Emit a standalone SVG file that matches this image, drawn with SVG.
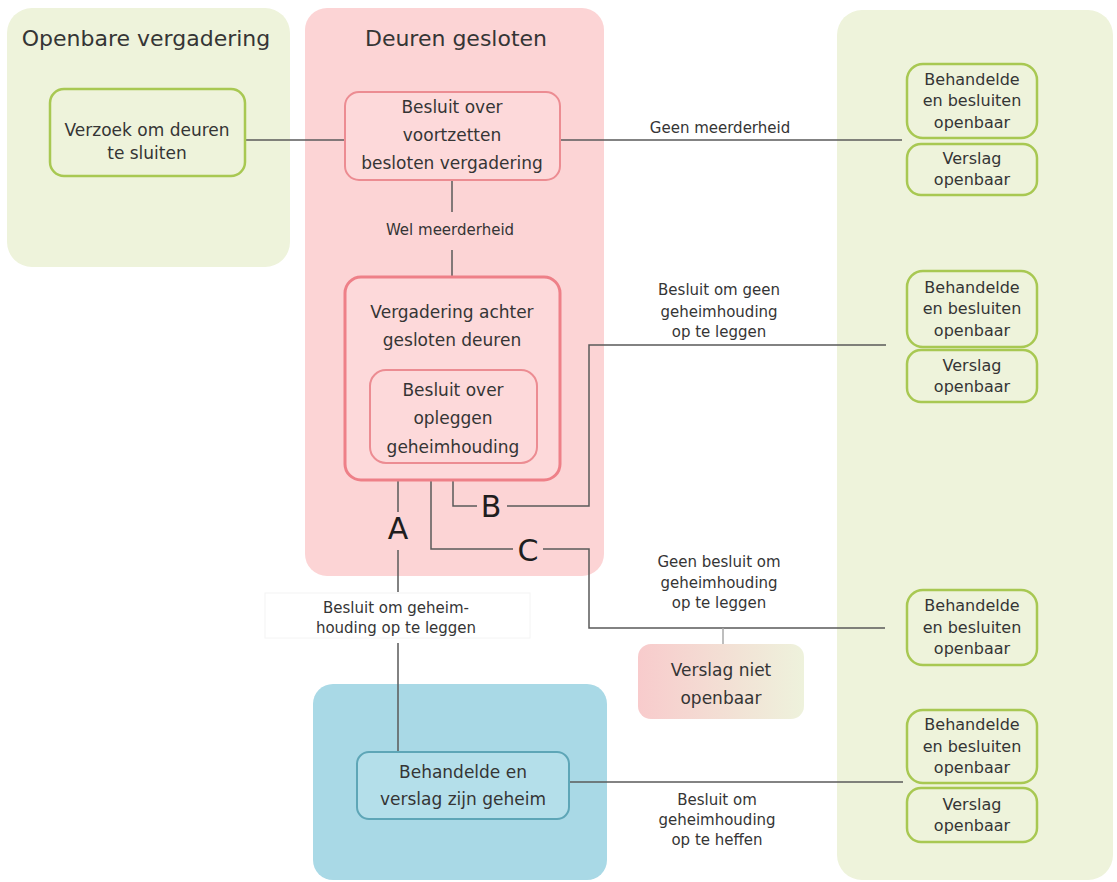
<svg xmlns="http://www.w3.org/2000/svg" width="1117" height="882" viewBox="0 0 1117 882">
<defs>
<linearGradient id="gNiet" x1="0" y1="0" x2="1" y2="0">
<stop offset="0" stop-color="#f8cbcc"/>
<stop offset="1" stop-color="#eef2dc"/>
</linearGradient>
<style>
text{font-family:"DejaVu Sans","Liberation Sans",sans-serif;fill:#353535;text-anchor:middle}
.title{font-size:22px}
.nt{font-size:17px}
.rt{font-size:16px}
.el{font-size:15px}
.abc{font-size:30px;fill:#1e1e1e}
.cg{fill:#eef3db}
.cp{fill:#fcd4d5}
.cb{fill:#a9d9e6}
.ng{fill:#eef3db;stroke:#a8c852;stroke-width:2.5}
.np{fill:#fdd9da;stroke:#ec8c92;stroke-width:2}
.np2{fill:#fdd9da;stroke:#ee8088;stroke-width:3}
.nb{fill:#b4dfea;stroke:#5ea6b7;stroke-width:2}
.conn path{fill:none;stroke:#5a5a5a;stroke-width:1.5}
</style>
</defs>
<rect width="1117" height="882" fill="#ffffff"/>

<g id="container-openbaar">
<rect class="cg" x="7" y="8" width="283" height="259" rx="25"/>
<text class="title" x="146" y="46">Openbare vergadering</text>
</g>
<g id="container-gesloten">
<rect class="cp" x="305" y="8" width="299" height="568" rx="22"/>
<text class="title" x="456" y="46">Deuren gesloten</text>
</g>
<g id="container-rechts">
<rect class="cg" x="837" y="10" width="276" height="870" rx="25"/>
</g>
<g id="container-geheim">
<rect class="cb" x="313" y="684" width="294" height="196" rx="20"/>
</g>

<g id="label-bg">
<rect x="265" y="593" width="265" height="45" fill="#ffffff" stroke="#f4f4f4" stroke-width="1"/>
</g>

<g class="conn" id="connectors">
<path d="M245 140H345"/>
<path d="M560 140H902"/>
<path d="M452 181V212M452 250V277"/>
<path d="M398 481V512M398 550V592M398 643V752"/>
<path d="M453 481V506H477M507 506H589V345H886"/>
<path d="M431 481V549H513M543 549H589V628H885"/>
<path d="M723 628V644" style="stroke:#a8a8a8"/>
<path d="M569 782H903"/>
</g>

<g id="edge-labels">
<text class="el" x="720" y="133">Geen meerderheid</text>
<text class="el" x="450" y="235">Wel meerderheid</text>
<text class="el" x="719" y="295">Besluit om geen</text>
<text class="el" x="719" y="317">geheimhouding</text>
<text class="el" x="719" y="337">op te leggen</text>
<text class="el" x="719" y="567">Geen besluit om</text>
<text class="el" x="719" y="588">geheimhouding</text>
<text class="el" x="719" y="608">op te leggen</text>
<text class="el" x="396" y="613">Besluit om geheim-</text>
<text class="el" x="396" y="633">houding op te leggen</text>
<text class="el" x="717" y="805">Besluit om</text>
<text class="el" x="717" y="825">geheimhouding</text>
<text class="el" x="717" y="845">op te heffen</text>
<text class="abc" x="398" y="539">A</text>
<text class="abc" x="491" y="517">B</text>
<text class="abc" x="528" y="561">C</text>
</g>

<g id="node-verzoek">
<rect class="ng" x="50" y="89" width="195" height="87" rx="14"/>
<text class="nt" x="147" y="135.5">Verzoek om deuren</text>
<text class="nt" x="147" y="158.5">te sluiten</text>
</g>
<g id="node-besluit-voortzetten">
<rect class="np" x="345" y="92" width="215" height="88" rx="14"/>
<text class="nt" x="452" y="112.5">Besluit over</text>
<text class="nt" x="452" y="140.5">voortzetten</text>
<text class="nt" x="452" y="168.5">besloten vergadering</text>
</g>
<g id="node-vergadering">
<rect class="np2" x="345" y="277" width="215" height="203" rx="16"/>
<text class="nt" x="452" y="317.5">Vergadering achter</text>
<text class="nt" x="452" y="345.5">gesloten deuren</text>
</g>
<g id="node-besluit-opleggen">
<rect class="np" x="370" y="370" width="167" height="93" rx="16"/>
<text class="nt" x="453" y="395.5">Besluit over</text>
<text class="nt" x="453" y="423.5">opleggen</text>
<text class="nt" x="453" y="452.5">geheimhouding</text>
</g>
<g id="node-geheim">
<rect class="nb" x="357" y="752" width="212" height="67" rx="12"/>
<text class="nt" x="463" y="777.5">Behandelde en</text>
<text class="nt" x="463" y="804.5">verslag zijn geheim</text>
</g>
<g id="node-verslag-niet">
<rect x="638" y="644" width="166" height="75" rx="13" fill="url(#gNiet)"/>
<text class="nt" x="721" y="675.5">Verslag niet</text>
<text class="nt" x="721" y="703.5">openbaar</text>
</g>

<g id="node-behandelde-1">
<rect class="ng" x="907" y="64" width="130" height="74" rx="16"/>
<text class="rt" x="972" y="84.5">Behandelde</text>
<text class="rt" x="972" y="106">en besluiten</text>
<text class="rt" x="972" y="127.5">openbaar</text>
</g>
<g id="node-verslag-1">
<rect class="ng" x="907" y="144" width="130" height="51" rx="14"/>
<text class="rt" x="972" y="164">Verslag</text>
<text class="rt" x="972" y="185">openbaar</text>
</g>
<g id="node-behandelde-2">
<rect class="ng" x="907" y="271" width="130" height="76" rx="16"/>
<text class="rt" x="972" y="292.5">Behandelde</text>
<text class="rt" x="972" y="314">en besluiten</text>
<text class="rt" x="972" y="335.5">openbaar</text>
</g>
<g id="node-verslag-2">
<rect class="ng" x="907" y="350" width="130" height="52" rx="14"/>
<text class="rt" x="972" y="370.5">Verslag</text>
<text class="rt" x="972" y="391.5">openbaar</text>
</g>
<g id="node-behandelde-3">
<rect class="ng" x="907" y="590" width="130" height="75" rx="16"/>
<text class="rt" x="972" y="611">Behandelde</text>
<text class="rt" x="972" y="632.5">en besluiten</text>
<text class="rt" x="972" y="654">openbaar</text>
</g>
<g id="node-behandelde-4">
<rect class="ng" x="907" y="710" width="130" height="73" rx="16"/>
<text class="rt" x="972" y="730">Behandelde</text>
<text class="rt" x="972" y="751.5">en besluiten</text>
<text class="rt" x="972" y="773">openbaar</text>
</g>
<g id="node-verslag-4">
<rect class="ng" x="907" y="788" width="130" height="54" rx="14"/>
<text class="rt" x="972" y="809.5">Verslag</text>
<text class="rt" x="972" y="830.5">openbaar</text>
</g>
</svg>
